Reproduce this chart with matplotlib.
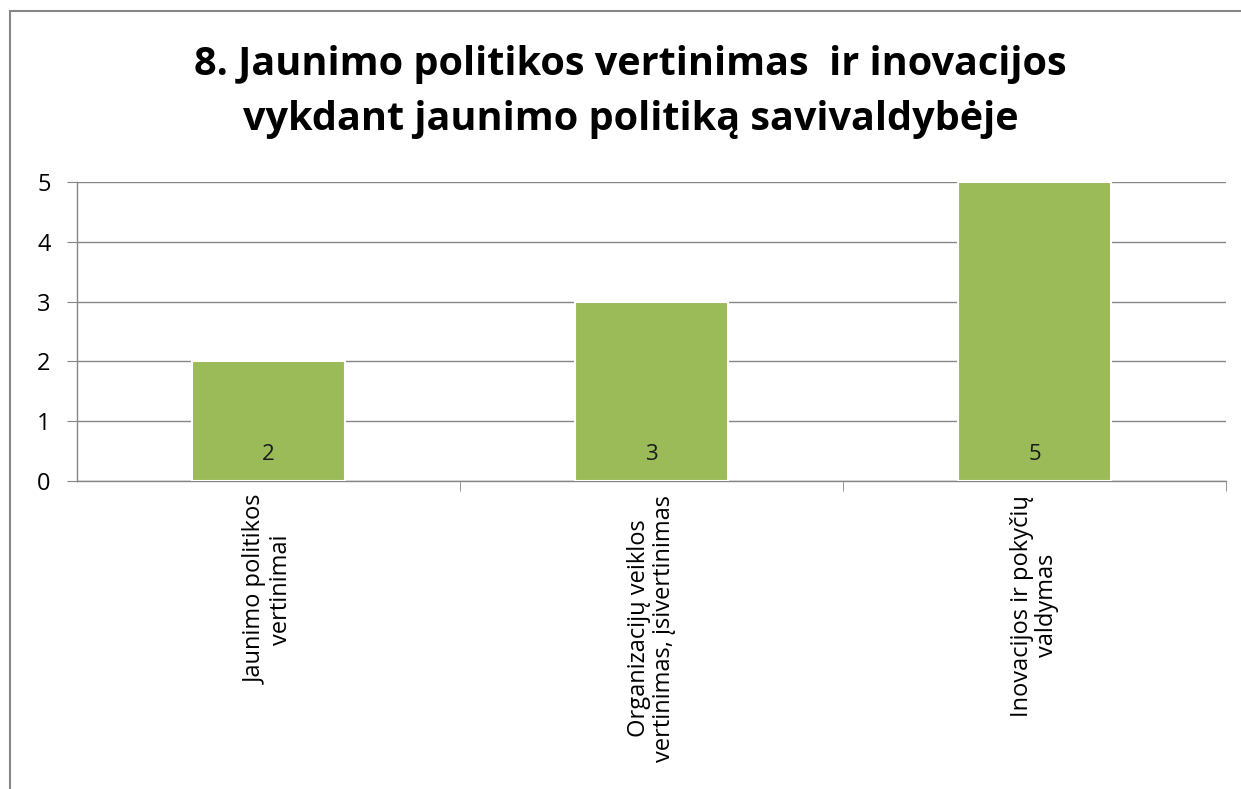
import matplotlib
matplotlib.use("Agg")
import matplotlib.pyplot as plt
from matplotlib.patches import Rectangle

plt.rcParams['font.family'] = ['Open Sans', 'DejaVu Sans']

categories = ["Jaunimo politikos\nvertinimai",
              "Organizacijų veiklos\nvertinimas, įsivertinimas",
              "Inovacijos ir pokyčių\nvaldymas"]
values = [2, 3, 5]
yticks = [0, 1, 2, 3, 4, 5]
title = "8. Jaunimo politikos vertinimas  ir inovacijos\nvykdant jaunimo politiką savivaldybėje"

grey = "#868686"

fig = plt.figure(figsize=(12.41, 7.89), dpi=100)
ax = fig.add_axes([0.062, 0.3904, 0.926, 0.3789])

x = list(range(len(values)))
bars = ax.bar(x, values, width=0.4, color="#9BBB59", edgecolor="white", linewidth=1.5, zorder=3)
for xi, v in zip(x, values):
    ax.text(xi, 0.45, str(v), ha="center", va="center", fontsize=16, color="#1a1a1a", zorder=4)

ax.set_xlim(-0.5, len(values) - 0.5)
ax.set_ylim(0, 5)
ax.set_yticks(yticks)
ax.tick_params(axis="y", length=7, color=grey, labelsize=17, pad=12)
ax.yaxis.grid(True, color=grey, linewidth=1)
ax.set_axisbelow(True)

ax.set_xticks(x)
ax.set_xticklabels(categories, rotation=90, fontsize=17, ha="center", va="top",
                   multialignment="center", linespacing=1.1)
ax.tick_params(axis="x", which="major", length=0, pad=10)
ax.set_xticks([i + 0.5 for i in x], minor=True)
ax.tick_params(axis="x", which="minor", length=7, color=grey)

for s in ["top", "right"]:
    ax.spines[s].set_visible(False)
for s in ["left", "bottom"]:
    ax.spines[s].set_color(grey)
    ax.spines[s].set_linewidth(1)

fig.text(0.508, 0.943, title, ha="center", va="top", fontsize=28.5, fontweight="bold",
         linespacing=1.55)

fig.patches.append(Rectangle((10 / 1241, -0.1), 1.2, 0.986 + 0.1, transform=fig.transFigure,
                             fill=False, edgecolor=grey, linewidth=1.5))

fig.savefig("out.png", dpi=100)
